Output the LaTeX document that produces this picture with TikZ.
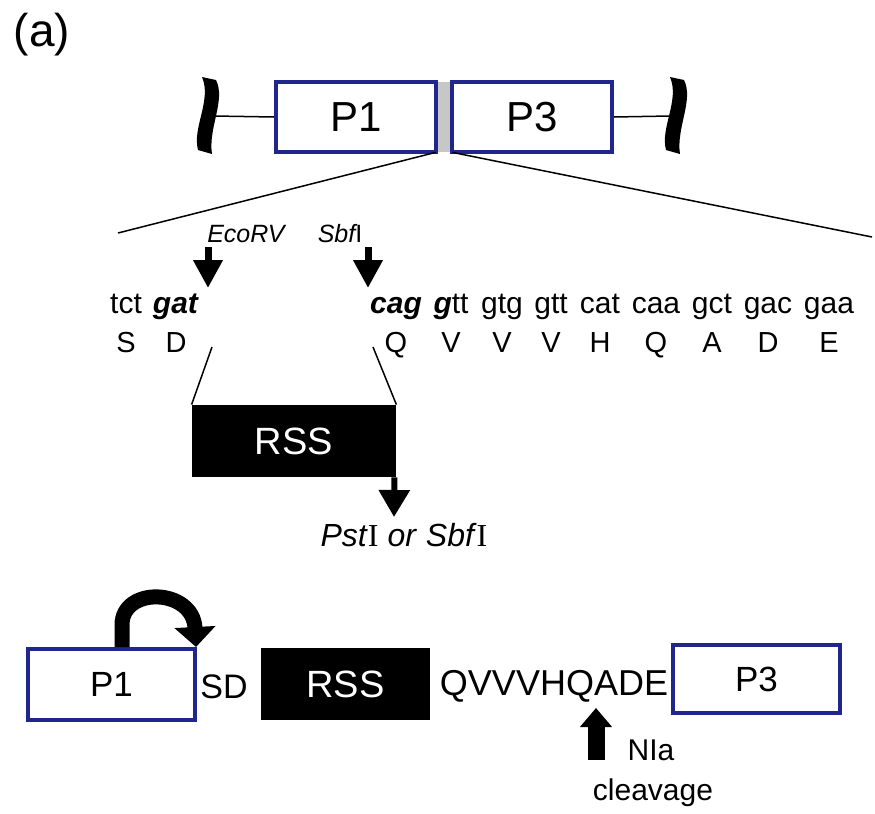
\documentclass[tikz,border=0pt]{standalone}
\usepackage{fontspec}
\setmainfont{Liberation Sans}
\newfontfamily\romI{Liberation Serif}
\usetikzlibrary{arrows.meta,positioning}
\definecolor{navy}{RGB}{32,38,140}
\tikzset{
  pbox/.style={draw=navy,line width=2pt,fill=white,inner sep=0pt},
  gapbox/.style={fill=black!22,inner sep=0pt,minimum width=8pt,minimum height=35pt},
  rssbox/.style={fill=black,text=white,inner sep=0pt},
  codon/.style={anchor=base,inner sep=0pt,font=\fontsize{15}{18}\selectfont},
  amino/.style={anchor=base,inner sep=0pt,font=\fontsize{14.5}{17}\selectfont},
  enz/.style={anchor=base,inner sep=0pt,font=\fontsize{12.5}{15}\selectfont\itshape},
  thinline/.style={line width=0.75pt},
  cutarrow/.style={line width=3.5pt,-{Triangle[width=14pt,length=14pt]}},
  bendarrow/.style={line width=7.5pt,-{Triangle[width=20pt,length=10pt]}},
  nlarrow/.style={line width=8.5pt,-{Triangle[width=15.5pt,length=9.5pt]}},
}

\begin{document}
\begin{tikzpicture}[x=0.5pt,y=-0.5pt]
  \useasboundingbox (0,0) rectangle (875,814);
  \node[font=\fontsize{23}{27}\selectfont] (lab) at (42,35) {(a)};

  % top: P1 -- linker -- P3
  \node[gapbox] (gap) at (444,117) {};
  \node[pbox,minimum width=80pt,minimum height=35pt,font=\fontsize{21}{25}\selectfont] (P1) at (356,117) {P1};
  \node[pbox,minimum width=80pt,minimum height=35pt,font=\fontsize{21}{25}\selectfont] (P3) at (532,117) {P3};
  \coordinate (lbr) at (214,116);
  \coordinate (rbr) at (670,116);
  \draw[thinline] (lbr) -- (P1.west);
  \draw[thinline] (P3.east) -- (rbr);
  \foreach \bx in {208,676}
    \fill (\bx-6,77) .. controls (\bx+4,100) and (\bx-16,128) .. (\bx-10,150)
          -- (\bx+4,154) .. controls (\bx,128) and (\bx+18,100) .. (\bx+8,80) -- cycle;

  % zoom lines
  \coordinate (zl) at (118,233);
  \coordinate (zr) at (872,237);
  \draw[thinline] (gap.south west) -- (zl);
  \draw[thinline] (gap.south east) -- (zr);

  % restriction sites
  \node[enz] (eco) at (246,242) {EcoRV};
  \node[enz] (sbf) at (340,242) {Sbf\upshape I};
  \coordinate (ecotop) at (208,247);
  \coordinate (ecotip) at (208,288);
  \coordinate (sbftop) at (368,247);
  \coordinate (sbftip) at (368,288);
  \draw[cutarrow] (ecotop) -- (ecotip);
  \draw[cutarrow] (sbftop) -- (sbftip);

  % codons and amino acids
  \foreach \cod/\cx/\aa [count=\i] in {tct/126/S,{\textbf{\textit{gat}}}/176/D,
      {\textbf{\textit{cag}}}/396/Q,{\textbf{\textit{g}}tt}/451/V,gtg/502/V,gtt/551/V,
      cat/600/H,caa/656/Q,gct/712/A,gac/768/D,gaa/829/E}{
    \node[codon] (cod\i) at (\cx,313) {\cod};
    \node[amino] (aa\i) at ([yshift=-19.5pt]cod\i.base) {\aa};
  }

  % inserted RSS
  \coordinate (dl) at (212,347);
  \coordinate (dr) at (373,347);
  \node[rssbox,minimum width=102pt,minimum height=36pt,font=\fontsize{19}{22}\selectfont] (rss) at (294,441) {RSS};
  \draw[thinline] (dl) -- (rss.north west);
  \draw[thinline] (dr) -- (rss.north east);
  \coordinate (psttip) at (394,517);
  \draw[line width=3pt,-{Triangle[width=15pt,length=13.5pt]}] ([xshift=-1pt]rss.south east) -- (psttip);
  \node[anchor=base,inner sep=0pt,font=\fontsize{16}{19}\selectfont] (pst) at (404,546)
    {\textit{Pst}{\romI I} \textit{or} \textit{Sbf}{\romI I}};

  % bottom: fusion product
  \node[pbox,minimum width=83.5pt,minimum height=35.5pt,font=\fontsize{17.5}{20}\selectfont] (P1b) at (111.5,684.5) {P1};
  \node[font=\fontsize{17}{20}\selectfont,inner sep=0pt] (sd) at (224,687) {SD};
  \node[rssbox,minimum width=84.5pt,minimum height=36pt,font=\fontsize{19}{22}\selectfont] (rssb) at (345.5,684) {RSS};
  \node[font=\fontsize{18}{21}\selectfont,inner sep=0pt] (link) at (554,686) {QVVVHQADE};
  \node[pbox,minimum width=83.5pt,minimum height=34pt,font=\fontsize{17.5}{20}\selectfont] (P3b) at (756.5,679) {P3};
  \coordinate (bendtip) at (196,647);
  \draw[bendarrow] ([xshift=5.25pt]P1b.north) -- (122,625)
    .. controls (122,586) and (193,588) .. (bendtip);

  % NIa cleavage site
  \coordinate (nlbase) at (596,760);
  \coordinate (nltip) at (596,708);
  \draw[nlarrow] (nlbase) -- (nltip);
  \node[anchor=base,inner sep=0pt,font=\fontsize{15}{18}\selectfont] (nia) at (651,760) {NIa};
  \node[anchor=base,inner sep=0pt,font=\fontsize{15}{18}\selectfont] (clv) at (653,800) {cleavage};
\end{tikzpicture}
\end{document}
